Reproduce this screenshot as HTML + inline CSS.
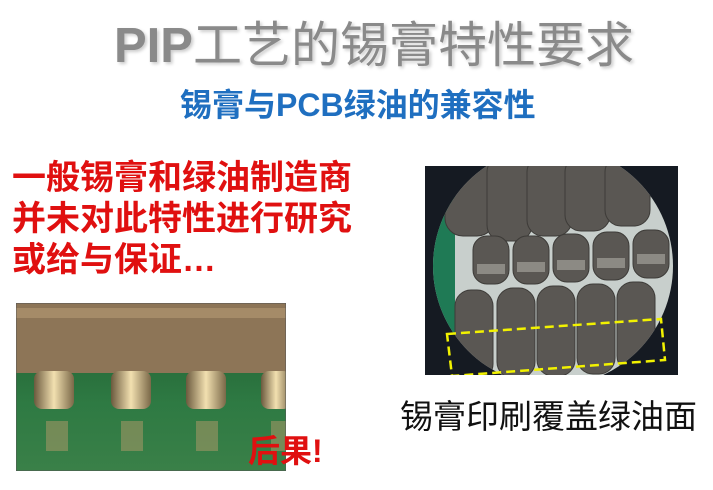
<!DOCTYPE html>
<html><head><meta charset="utf-8"><style>
body{margin:0;width:713px;height:490px;background:#fff;overflow:hidden;position:relative;font-family:"Liberation Sans","Noto Sans CJK SC",sans-serif}
.t{position:absolute;white-space:nowrap}
</style></head><body>
<div class="t" style="left:114px;top:6px;font-size:49px;color:#8a8a8a;text-shadow:2px 2px 3px #ccc;font-weight:normal"><b>PIP</b>工艺的锡膏特性要求</div>
<div class="t" style="left:180px;top:80px;font-size:32px;color:#1f6fc0;font-weight:bold">锡膏与PCB绿油的兼容性</div>
<div class="t" style="left:12px;top:158px;font-size:34px;line-height:41px;color:#e01010;font-weight:bold">一般锡膏和绿油制造商<br>并未对此特性进行研究<br>或给与保证…</div>
<svg class="t" style="left:16px;top:303px" width="270" height="168">
<defs><linearGradient id="g" x1="0" y1="0" x2="0" y2="1"><stop offset="0" stop-color="#1f5a2f"/><stop offset="0.6" stop-color="#2e7a43"/><stop offset="1" stop-color="#3a8048"/></linearGradient>
<linearGradient id="p" x1="0" x2="1"><stop offset="0" stop-color="#6b5a3e"/><stop offset="0.5" stop-color="#f2e0b0"/><stop offset="1" stop-color="#7a6848"/></linearGradient></defs>
<rect width="270" height="168" fill="url(#g)"/>
<rect width="270" height="70" fill="#8d7557"/>
<rect y="5" width="270" height="10" fill="#a58b68"/>
<g fill="url(#p)">
<rect x="18" y="68" width="40" height="38" rx="8"/><rect x="95" y="68" width="40" height="38" rx="8"/><rect x="170" y="68" width="40" height="38" rx="8"/><rect x="245" y="68" width="30" height="38" rx="8"/>
</g>
<g fill="#b49a6a" opacity="0.5"><rect x="30" y="118" width="22" height="30"/><rect x="105" y="118" width="22" height="30"/><rect x="180" y="118" width="22" height="30"/><rect x="255" y="118" width="15" height="30"/></g>
<rect width="270" height="168" fill="none" stroke="#555" stroke-width="1"/>
</svg>
<div class="t" style="left:248px;top:426px;font-size:32px;color:#e01010;font-weight:bold">后果!</div>
<svg class="t" style="left:425px;top:166px" width="253" height="209">
<rect width="253" height="209" fill="#151a22"/>
<clipPath id="c"><circle cx="128" cy="100" r="120"/></clipPath>
<g clip-path="url(#c)">
<rect width="253" height="209" fill="#c8cfcc"/>
<rect x="0" y="20" width="30" height="189" fill="#1f7a55"/>
<g fill="#5a5753" stroke="#3d3b38">
<rect x="20" y="-10" width="50" height="80" rx="18"/><rect x="62" y="-10" width="45" height="85" rx="16"/><rect x="102" y="-10" width="45" height="80" rx="16"/><rect x="140" y="-10" width="45" height="75" rx="16"/><rect x="180" y="-10" width="45" height="70" rx="16"/>
<rect x="48" y="70" width="36" height="48" rx="14"/><rect x="88" y="70" width="36" height="48" rx="14"/><rect x="128" y="68" width="36" height="48" rx="14"/><rect x="168" y="66" width="36" height="48" rx="14"/><rect x="208" y="64" width="36" height="48" rx="14"/>
<rect x="30" y="124" width="38" height="90" rx="16"/><rect x="72" y="122" width="38" height="90" rx="16"/><rect x="112" y="120" width="38" height="90" rx="16"/><rect x="152" y="118" width="38" height="90" rx="16"/><rect x="192" y="116" width="38" height="90" rx="16"/>
</g>
<g fill="#8c8a84"><rect x="52" y="98" width="28" height="10"/><rect x="92" y="96" width="28" height="10"/><rect x="132" y="94" width="28" height="10"/><rect x="172" y="92" width="28" height="10"/><rect x="212" y="88" width="28" height="10"/></g>
</g>
<polygon points="22,168 236,153 240,194 27,210" fill="none" stroke="#f2f200" stroke-width="2.5" stroke-dasharray="9,5"/>
</svg>
<div class="t" style="left:400px;top:390px;font-size:33px;color:#111">锡膏印刷覆盖绿油面</div>
</body></html>
